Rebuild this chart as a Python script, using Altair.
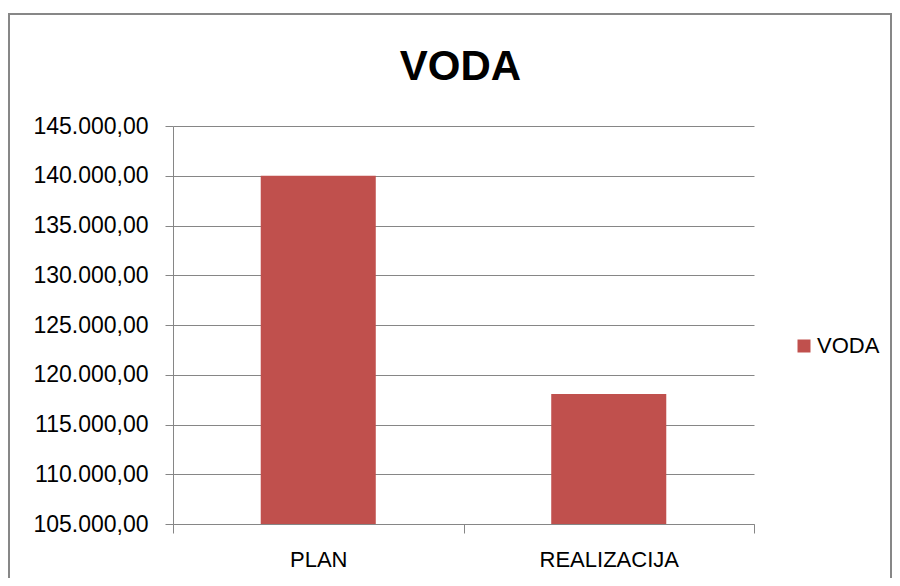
import altair as alt
import pandas as pd

# ---- data ----
categories = ["PLAN", "REALIZACIJA"]
values = [140000.0, 118070.0]
series = ["VODA", "VODA"]
y_ticks = [105000, 110000, 115000, 120000, 125000, 130000, 135000, 140000, 145000]
y_domain = [105000, 145000]
title_text = "VODA"

df = pd.DataFrame({"kategorija": categories, "iznos": values, "serija": series})

W, H = 581, 398
FONT = "Liberation Sans"
GRID = "#868686"

frame = alt.Chart(alt.Data(values=[{}])).mark_rect(
    fill="white", fillOpacity=0, stroke="#878787", strokeWidth=2
).encode(
    x=alt.value(-164), x2=alt.value(718), y=alt.value(-112), y2=alt.value(470)
)

title = alt.Chart(alt.Data(values=[{}])).mark_text(
    fontSize=42, fontWeight="bold", font=FONT, color="#000000",
    align="center", baseline="alphabetic",
).encode(
    x=alt.value(287.5), y=alt.value(-46), text=alt.datum(title_text)
)

bars = alt.Chart(df).mark_bar(width=alt.RelativeBandSize(0.396)).encode(
    x=alt.X(
        "kategorija:N",
        sort=categories,
        scale=alt.Scale(paddingInner=0, paddingOuter=0),
        axis=alt.Axis(
            title=None, labelAngle=0, tickBand="extent", tickSize=9,
            labelPadding=16, labelFontSize=22, labelFont=FONT, labelColor="#000000",
            domainColor=GRID, tickColor=GRID, grid=False,
        ),
    ),
    y=alt.Y(
        "iznos:Q",
        scale=alt.Scale(domain=y_domain, nice=False, zero=False),
        axis=alt.Axis(
            title=None, values=y_ticks, format=",.2f", tickSize=8,
            labelPadding=17, labelFontSize=23, labelFont=FONT, labelColor="#000000",
            domainColor=GRID, tickColor=GRID, gridColor=GRID, grid=True,
        ),
    ),
    y2=alt.datum(y_domain[0]),
    color=alt.Color(
        "serija:N",
        scale=alt.Scale(range=["#C0504D"]),
        legend=alt.Legend(
            title=None, orient="none", legendX=620, legendY=209, padding=0,
            symbolType="square", symbolSize=169, labelFontSize=22, labelFont=FONT,
            labelColor="#000000", labelOffset=2,
        ),
    ),
)

chart = alt.layer(frame, bars, title).properties(
    width=W,
    height=H,
    padding={"left": 165, "top": 118, "right": 138, "bottom": 54},
    autosize=alt.AutoSizeParams(type="none"),
).configure(
    locale=alt.Locale(
        number=alt.NumberLocale(
            decimal=",", thousands=".", grouping=[3], currency=["", ""]
        )
    )
).configure_view(stroke=None)

chart.save("out.html", embed_options={"renderer": "svg", "actions": False})
